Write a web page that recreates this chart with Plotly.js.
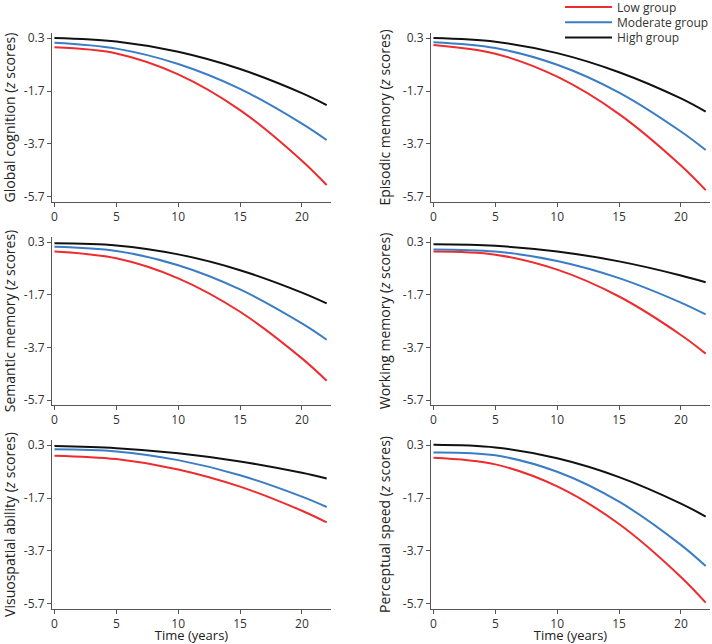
<!DOCTYPE html>
<html>
<head>
<meta charset="utf-8">
<script src="https://cdn.plot.ly/plotly-3.0.1.min.js"></script>
<style>html,body{margin:0;padding:0;background:#fff;}#chart{width:712px;height:644px;}</style>
</head>
<body>
<div id="chart"></div>
<script>
// Time points (years)
const time = [0, 5, 10, 15, 20, 22];
const groupNames = ["Low group", "Moderate group", "High group"];
const groupColors = ["#ee2b2e", "#3b7dc4", "#111111"];

const panelTitles = [
  "Global cognition (<i>z</i> scores)",
  "Episodic memory (<i>z</i> scores)",
  "Semantic memory (<i>z</i> scores)",
  "Working memory (<i>z</i> scores)",
  "Visuospatial ability (<i>z</i> scores)",
  "Perceptual speed (<i>z</i> scores)"
];

// Global cognition
const gcLow  = [-0.05, -0.28, -1.07, -2.42, -4.33, -5.25];
const gcMod  = [0.12, -0.10, -0.68, -1.62, -2.93, -3.55];
const gcHigh = [0.30, 0.17, -0.22, -0.87, -1.78, -2.23];
// Episodic memory
const emLow  = [0.04, -0.29, -1.16, -2.57, -4.51, -5.44];
const emMod  = [0.14, -0.08, -0.71, -1.76, -3.23, -3.93];
const emHigh = [0.30, 0.16, -0.27, -0.99, -1.98, -2.48];
// Semantic memory
const smLow  = [-0.06, -0.32, -1.08, -2.35, -4.12, -4.97];
const smMod  = [0.12, -0.04, -0.58, -1.50, -2.79, -3.41];
const smHigh = [0.25, 0.17, -0.17, -0.77, -1.62, -2.03];
// Working memory
const wmLow  = [-0.06, -0.18, -0.75, -1.77, -3.23, -3.94];
const wmMod  = [0.02, -0.06, -0.42, -1.07, -2.00, -2.45];
const wmHigh = [0.21, 0.155, -0.06, -0.435, -0.97, -1.23];
// Visuospatial ability
const vaLow  = [-0.10, -0.23, -0.62, -1.27, -2.18, -2.62];
const vaMod  = [0.14, 0.06, -0.27, -0.84, -1.65, -2.04];
const vaHigh = [0.26, 0.18, -0.01, -0.32, -0.75, -0.96];
// Perceptual speed
const psLow  = [-0.18, -0.43, -1.26, -2.68, -4.68, -5.65];
const psMod  = [0.02, -0.09, -0.71, -1.84, -3.47, -4.27];
const psHigh = [0.31, 0.21, -0.20, -0.91, -1.91, -2.40];

const yTickVals = [0.3, -1.7, -3.7, -5.7];
const yTickText = ["0.3", "-1.7", "-3.7", "-5.7"];
const xTickVals = [0, 5, 10, 15, 20];

const panels = [
  [gcLow, gcMod, gcHigh],
  [emLow, emMod, emHigh],
  [smLow, smMod, smHigh],
  [wmLow, wmMod, wmHigh],
  [vaLow, vaMod, vaHigh],
  [psLow, psMod, psHigh]
];

const W = 712, H = 644;
const MB = 35;             // bottom margin (px)
const PH = H - MB;         // plot-area height
const colPx = [[52, 331], [431, 710]];
const rowPx = [[33, 202], [237, 405], [440, 609]];

const FONT = "Open Sans, Noto Sans, sans-serif";
const traces = [];
const layout = {
  width: W, height: H,
  margin: {l: 0, r: 0, t: 0, b: MB, pad: 0, autoexpand: false},
  paper_bgcolor: "#fff", plot_bgcolor: "#fff",
  font: {family: FONT, size: 12, color: "#333"},
  showlegend: true
};

const legendKeys = ["legend", "legend2", "legend3"];
const legendY = [7, 22.3, 37.6];

const py2paper = py => (PH - py) / PH;

panels.forEach((series, p) => {
  const r = Math.floor(p / 2), c = p % 2;
  const ax = p === 0 ? "" : String(p + 1);
  series.forEach((vals, g) => {
    traces.push({
      type: "scatter", mode: "lines",
      x: time, y: vals,
      xaxis: "x" + ax, yaxis: "y" + ax,
      name: groupNames[g],
      line: {color: groupColors[g], width: 2, shape: "spline", smoothing: 1},
      showlegend: p === 0,
      legend: legendKeys[g],
      hoverinfo: "skip"
    });
  });
  const xd = [colPx[c][0] / W, colPx[c][1] / W];
  const yd = [Math.max(0, py2paper(rowPx[r][1])), py2paper(rowPx[r][0])];
  layout["xaxis" + ax] = {
    domain: xd, range: [-0.2, 22.35],
    anchor: "y" + ax,
    tickvals: xTickVals,
    showline: true, linecolor: "#555", linewidth: 1,
    ticks: "outside", ticklen: 4, tickcolor: "#555",
    showgrid: false, zeroline: false,
    automargin: r === 2,
    tickfont: {size: 12, color: "#333"},
    title: r === 2 ? {text: "Time (years)", font: {size: 13, color: "#222"}, standoff: 3} : {text: ""}
  };
  layout["yaxis" + ax] = {
    domain: yd, range: [-5.89, 0.49],
    anchor: "x" + ax,
    tickvals: yTickVals, ticktext: yTickText,
    showline: true, linecolor: "#555", linewidth: 1,
    ticks: "outside", ticklen: 4, tickcolor: "#555",
    showgrid: false, zeroline: false,
    tickfont: {size: 12, color: "#333"},
    title: {text: panelTitles[p], font: {size: 14, color: "#222"}, standoff: 8}
  };
});

legendKeys.forEach((k, i) => {
  layout[k] = {
    x: 560 / W, xanchor: "left",
    y: py2paper(legendY[i]), yanchor: "middle",
    itemwidth: 47,
    bgcolor: "rgba(0,0,0,0)", borderwidth: 0,
    font: {size: 12, color: "#333", family: FONT}
  };
});

Plotly.newPlot("chart", traces, layout, {displayModeBar: false, staticPlot: true});
</script>
</body>
</html>
